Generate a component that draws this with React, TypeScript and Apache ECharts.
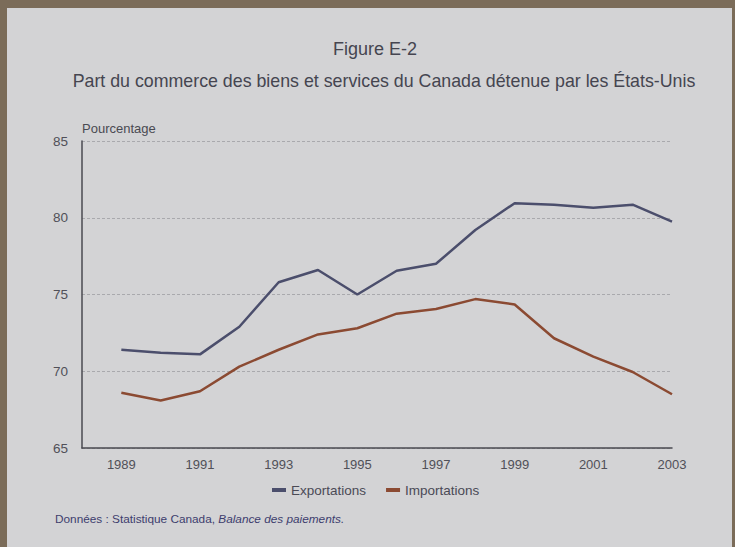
import React, { useEffect, useRef } from "react";
import * as echarts from "echarts";

const years = [1989, 1990, 1991, 1992, 1993, 1994, 1995, 1996, 1997, 1998, 1999, 2000, 2001, 2002, 2003];
const exportations = [71.4, 71.2, 71.1, 72.9, 75.8, 76.6, 75.0, 76.55, 77.0, 79.2, 80.95, 80.85, 80.65, 80.85, 79.75];
const importations = [68.6, 68.1, 68.7, 70.3, 71.4, 72.4, 72.8, 73.75, 74.05, 74.7, 74.35, 72.15, 70.95, 69.95, 68.5];
const seriesNames = ["Exportations", "Importations"];
const yTicks = [65, 70, 75, 80, 85];

const FONT = "'Liberation Sans', Arial, sans-serif";

export default function App() {
  const ref = useRef<HTMLDivElement>(null);
  useEffect(() => {
    if (!ref.current) return;
    const chart = echarts.init(ref.current, null, { renderer: "svg" });
    chart.setOption({
      animation: false,
      backgroundColor: "#7b6c59",
      graphic: [
        {
          type: "rect",
          shape: { x: 7, y: 8, width: 725, height: 539 },
          style: { fill: "#d3d3d5" },
          z: -10,
        },
        {
          type: "text",
          x: 375,
          y: 49,
          style: {
            text: "Figure E-2",
            font: `18px ${FONT}`,
            fill: "#454550",
            align: "center",
            verticalAlign: "middle",
          },
        },
        {
          type: "text",
          x: 384,
          y: 81,
          style: {
            text: "Part du commerce des biens et services du Canada détenue par les États-Unis",
            font: `17.8px ${FONT}`,
            fill: "#454550",
            align: "center",
            verticalAlign: "middle",
          },
        },
        {
          type: "text",
          x: 82,
          y: 128,
          style: {
            text: "Pourcentage",
            font: `13px ${FONT}`,
            fill: "#4a4a52",
            verticalAlign: "middle",
          },
        },
        {
          type: "text",
          x: 55,
          y: 519,
          style: {
            text: "{r|Données : Statistique Canada, }{i|Balance des paiements.}",
            verticalAlign: "middle",
            rich: {
              r: { font: `11.8px ${FONT}`, fill: "#3d3d6e" },
              i: { font: `italic 11.8px ${FONT}`, fill: "#3d3d6e" },
            },
          },
        },
      ],
      grid: { left: 82, right: 63, top: 141, bottom: 99, containLabel: false },
      legend: {
        data: seriesNames,
        top: 478,
        left: 267,
        itemWidth: 14,
        itemHeight: 4,
        itemGap: 20,
        icon: "rect",
        textStyle: { fontFamily: FONT, fontSize: 13.5, color: "#4a4a55" },
      },
      xAxis: {
        type: "value",
        min: 1988,
        max: 2003,
        interval: 1,
        axisLine: { show: true, lineStyle: { color: "#4a4a50", width: 1.5 } },
        axisTick: { show: false },
        splitLine: { show: false },
        axisLabel: {
          formatter: (v: number) => (v % 2 === 1 ? String(v) : ""),
          fontFamily: FONT,
          fontSize: 13,
          color: "#505058",
          margin: 10,
        },
      },
      yAxis: {
        type: "value",
        min: yTicks[0],
        max: yTicks[yTicks.length - 1],
        interval: 5,
        axisLine: { show: true, lineStyle: { color: "#4a4a50", width: 1.5 } },
        axisTick: { show: false },
        splitLine: { show: true, lineStyle: { color: "#a9a9ad", type: [3, 2], width: 1 } },
        axisLabel: { fontFamily: FONT, fontSize: 13.5, color: "#505058", margin: 14 },
      },
      series: [
        {
          name: seriesNames[0],
          type: "line",
          data: years.map((y, i) => [y, exportations[i]]),
          showSymbol: false,
          lineStyle: { color: "#4b4e6c", width: 2.5 },
          itemStyle: { color: "#4b4e6c" },
        },
        {
          name: seriesNames[1],
          type: "line",
          data: years.map((y, i) => [y, importations[i]]),
          showSymbol: false,
          lineStyle: { color: "#8b4a32", width: 2.5 },
          itemStyle: { color: "#8b4a32" },
        },
      ],
    });
    return () => chart.dispose();
  }, []);
  return <div ref={ref} style={{ position: "fixed", left: 0, top: 0, width: 735, height: 547 }} />;
}
